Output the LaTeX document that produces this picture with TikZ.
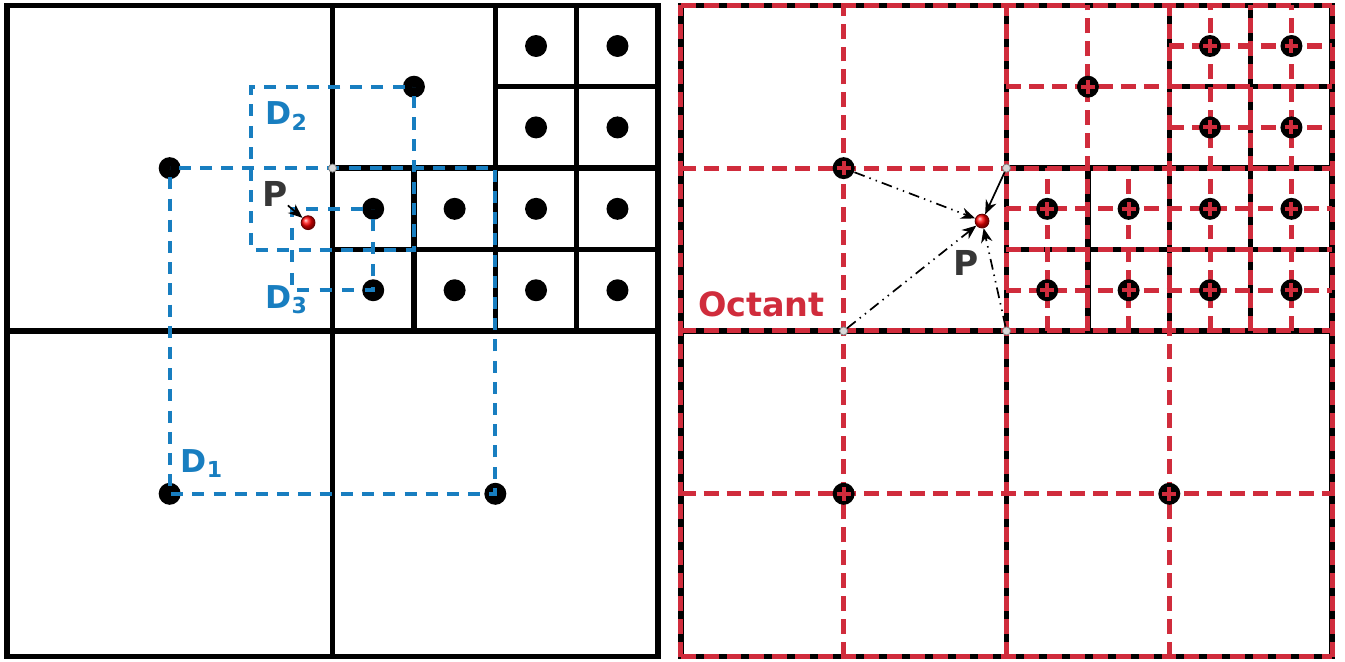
\documentclass[tikz,border=0pt]{standalone}
\usepackage{fontspec}
\setsansfont{DejaVu Sans}
\usetikzlibrary{calc,arrows.meta,decorations}

\definecolor{dualblue}{RGB}{24,126,192}
\definecolor{octred}{RGB}{208,44,60}
\definecolor{labelgrey}{RGB}{55,55,55}

\begin{document}
\begin{tikzpicture}[
        cell/.style={line width=1.9pt},
        dot/.style={circle, fill=black, inner sep=0pt, minimum size=2.7mm},
        gdot/.style={circle, fill=gray!30, draw=gray, line width=0.3pt, inner sep=0pt, minimum size=1mm},
        pdot/.style={circle, ball color=red, draw=red!40!black, line width=0.3pt, inner sep=0pt, minimum size=1.7mm},
        dual/.style={dualblue, line width=1.4pt, dash pattern=on 4.2pt off 3.2pt, dash expand off},
        oct/.style={octred, line width=1.75pt, dash pattern=on 5.2pt off 2.8pt},
        plus/.style={octred, line width=1.4pt},
        dtext/.style={dualblue, font=\sffamily\bfseries\fontsize{11}{13}\selectfont, inner sep=0pt, anchor=base west},
        ptext/.style={labelgrey, font=\sffamily\bfseries\fontsize{12}{14}\selectfont, inner sep=0pt},
        tip/.style={line width=0.6pt, -{Stealth[length=5pt,width=4pt]}},
        interp/.style={tip, dash pattern=on 3.8pt off 1.8pt on 0.5pt off 1.8pt on 0.5pt off 1.8pt}
    ]
    \useasboundingbox (0,0) rectangle (16.52,8.13);

    \coordinate (L) at (0.084,0.065);
    \coordinate (R) at ($(L) + (8.278,0)$);

    \foreach \c in {L, R}
        {
            \begin{scope}[shift={(\c)}]
                \draw [cell] (0,0) rectangle (8,8);
                \draw [cell] (4,0) -- (4,8) (0,4) -- (8,4);
                \draw [cell] (6,4) -- (6,8) (4,6) -- (8,6);
                \draw [cell] (5,4) -- (5,6) (7,4) -- (7,8);
                \draw [cell] (4,5) -- (8,5) (6,7) -- (8,7);
            \end{scope}
        }

    \begin{scope}[shift={(R)}]
        \foreach \x in {0,2,4,6,8} \draw [oct] (\x,0) -- (\x,8);
        \foreach \y in {0,2,4,6,8} \draw [oct] (0,\y) -- (8,\y);
        \foreach \x in {5,6.5,7,7.5} \draw [oct] (\x,4) -- (\x,8);
        \foreach \x in {4.5,5.5} \draw [oct] (\x,4) -- (\x,6);
        \foreach \y in {4.5,5,5.5,7} \draw [oct] (4,\y) -- (8,\y);
        \foreach \y in {6.5,7.5} \draw [oct] (6,\y) -- (8,\y);
    \end{scope}

    \foreach \c in {L, R}
        {
            \foreach \x/\y/\n in {2/6/a, 2/2/b, 6/2/c, 5/7/d, 6.5/7.5/e, 7.5/7.5/f, 6.5/6.5/g, 7.5/6.5/h,
                                  4.5/5.5/i, 5.5/5.5/j, 6.5/5.5/k, 7.5/5.5/l, 4.5/4.5/m, 5.5/4.5/n, 6.5/4.5/o, 7.5/4.5/p}
                \node [dot] (\c\n) at ($(\c) + (\x,\y)$) {};
        }

    \foreach \n in {a,...,p}
        \draw [plus] ($(R\n) + (-0.085,0)$) -- ($(R\n) + (0.085,0)$)
                     ($(R\n) + (0,-0.085)$) -- ($(R\n) + (0,0.085)$);

    % left: dual cells
    \draw [dual] (La.center) -- (Lb.center) -- (Lc.center) -- ($(L) + (6,6)$) -- cycle;
    \draw [dual] (Ld.center) -- ($(L) + (3,7)$) -- ($(L) + (3,5)$) -- ($(L) + (5,5)$) -- cycle;
    \draw [dual] (Li.center) -- ($(L) + (3.5,5.5)$) -- ($(L) + (3.5,4.5)$) -- (Lm.center) -- cycle;

    \node [dtext] (D1) at ($(L) + (2.13,2.26)$) {D\textsubscript{1}};
    \node [dtext] (D2) at ($(L) + (3.17,6.53)$) {D\textsubscript{2}};
    \node [dtext] (D3) at ($(L) + (3.17,4.28)$) {D\textsubscript{3}};

    \node [gdot] (LK) at ($(L) + (4,6)$) {};
    \node [pdot] (LP) at ($(L) + (3.7,5.33)$) {};
    \node [ptext] (LPt) at ($(L) + (3.29,5.68)$) {P};
    \draw [tip] (LPt) -- (LP);

    % right: octant neighbours
    \node [gdot] (RK1) at ($(R) + (2,4)$) {};
    \node [gdot] (RK2) at ($(R) + (4,4)$) {};
    \node [gdot] (RK3) at ($(R) + (4,6)$) {};
    \node [pdot] (RP) at ($(R) + (3.7,5.35)$) {};
    \node [ptext] (RPt) at ($(R) + (3.5,4.84)$) {P};
    \node [octred, font=\sffamily\bfseries\fontsize{11.7}{14}\selectfont, inner sep=0pt] (Oct)
        at ($(R) + (0.99,4.33)$) {Octant};

    \draw [interp] (Ra) -- (RP);
    \draw [interp] (RK1) -- (RP);
    \draw [interp] (RK2) -- (RP);
    \draw [tip] (RK3) -- (RP);

\end{tikzpicture}
\end{document}
